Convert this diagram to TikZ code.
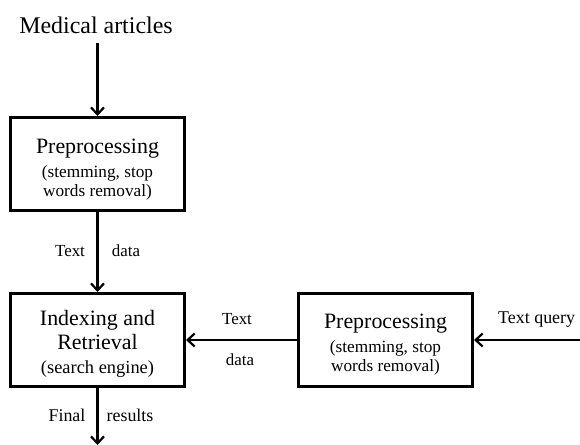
\documentclass[tikz,border=0pt]{standalone}
\usepackage{fontspec}
\setmainfont{Liberation Serif}
\usetikzlibrary{arrows.meta}
\newcommand{\smalltxt}{\fontsize{17.3}{19}\selectfont}
\newcommand{\bigtxt}{\fontsize{22}{24}\selectfont}
\tikzset{
  procbox/.style={draw, line width=3bp, minimum width=174bp, minimum height=93bp, align=center, inner sep=0pt, font=\bigtxt},
  flow/.style={line width=2.2bp, -{Straight Barb[length=7bp, width=13bp, line width=2.2bp]}},
  lbl/.style={font=\fontsize{17}{19}\selectfont, inner sep=0pt}
}
\begin{document}
\begin{tikzpicture}[x=1bp, y=-1bp]
\useasboundingbox (0,0) rectangle (580,445);
\node[inner sep=0pt, font=\fontsize{24}{26}\selectfont] (src) at (96,25) {Medical articles};
\coordinate (srcend) at (97.5,43);
\node[procbox] (pre1) at (97.5,164) {\strut\\[-15bp]Preprocessing\\{\smalltxt (stemming, stop}\\[-5bp]{\smalltxt words removal)}};
\node[procbox] (idx) at (97.5,340) {\strut\\[-18bp]Indexing and\\Retrieval\\{\fontsize{18.5}{20}\selectfont (search engine)}};
\node[procbox] (pre2) at (385.5,340) {\strut\\[-17bp]Preprocessing\\{\smalltxt (stemming, stop}\\[-5bp]{\smalltxt words removal)}};
\coordinate (qstart) at (580,340);
\coordinate (outend) at (97.5,445);
\draw[flow] (srcend) -- (pre1.north);
\draw[flow] (pre1.south) -- (idx.north);
\draw[flow] (pre2.west) -- (idx.east);
\draw[flow] (qstart) -- (pre2.east);
\draw[flow] (idx.south) -- (outend);
\node[lbl] (t1) at (70,251) {Text};
\node[lbl] (d1) at (126,251) {data};
\node[lbl] (t2) at (237,319) {Text};
\node[lbl] (d2) at (240,360) {data};
\node[lbl, font=\fontsize{18}{20}\selectfont] (f1) at (67,415) {Final};
\node[lbl, font=\fontsize{18}{20}\selectfont] (r1) at (130,415) {results};
\node[lbl, font=\fontsize{18}{20}\selectfont, anchor=west] (tq) at (498,320) {Text query};
\end{tikzpicture}
\end{document}
